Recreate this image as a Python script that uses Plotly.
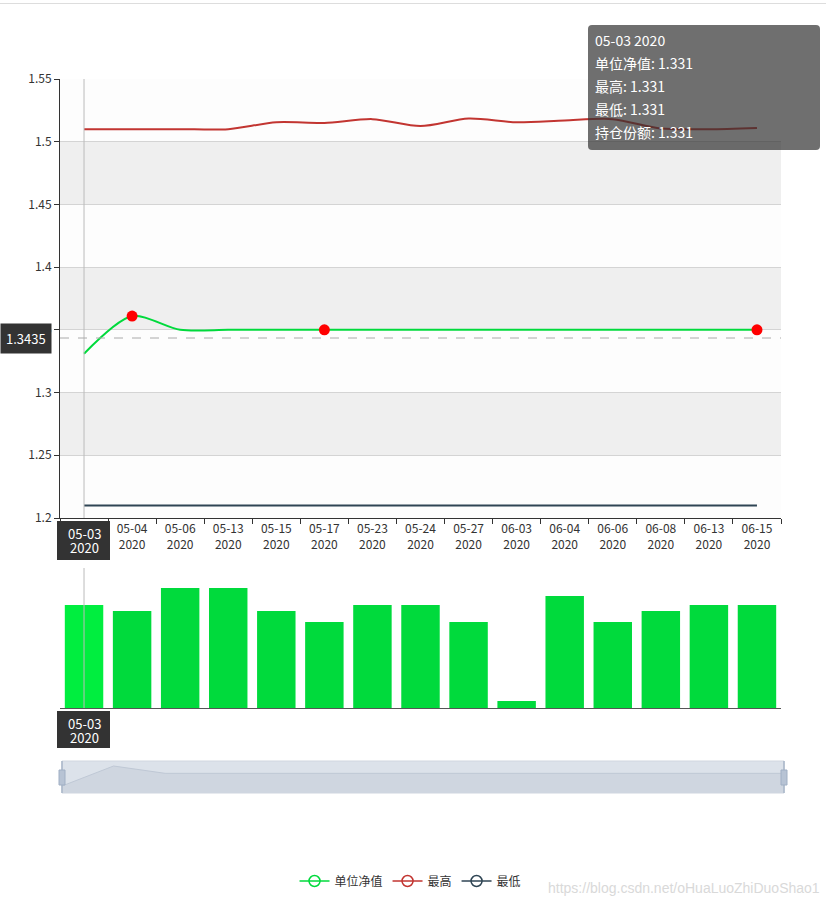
import plotly.graph_objects as go

# ---------------- data ----------------
dates = ["05-03", "05-04", "05-06", "05-13", "05-15", "05-17", "05-23", "05-24",
         "05-27", "06-03", "06-04", "06-06", "06-08", "06-13", "06-15"]
year = "2020"
categories = [f"{d} {year}" for d in dates]
tick_labels = [f"{d}<br>{year}" for d in dates]

net_value = [1.331, 1.361, 1.35, 1.35, 1.35, 1.35, 1.35, 1.35,
             1.35, 1.35, 1.35, 1.35, 1.35, 1.35, 1.35]
highest = [1.51, 1.51, 1.51, 1.51, 1.5155, 1.515, 1.518, 1.5125,
           1.5185, 1.5155, 1.517, 1.518, 1.5105, 1.51, 1.511]
lowest = [1.21, 1.21, 1.21, 1.21, 1.21, 1.21, 1.21, 1.21,
          1.21, 1.21, 1.21, 1.21, 1.21, 1.21, 1.21]
volume = [103, 97, 120, 120, 97, 86, 103, 103, 86, 7, 112, 86, 97, 103, 103]

mark_dates = ["05-04 2020", "05-17 2020", "06-15 2020"]
mark_values = [1.361, 1.35, 1.35]

y_ticks = [1.2, 1.25, 1.3, 1.35, 1.4, 1.45, 1.5, 1.55]
y_tick_text = ["1.2", "1.25", "1.3", "1.35", "1.4", "1.45", "1.5", "1.55"]

series_names = ["单位净值", "最高", "最低"]
tooltip_lines = ["05-03 2020", "单位净值: 1.331", "最高: 1.331", "最低: 1.331", "持仓份额: 1.331"]
pointer_x = "05-03 2020"
pointer_x_lines = ["05-03", "2020"]
pointer_y = 1.3435
pointer_y_label = "1.3435"
watermark = "https://blog.csdn.net/oHuaLuoZhiDuoShao1"

# the axis-pointer label sits over the first tick label, so that one is shown by the pointer label
shown_tick_labels = [""] + tick_labels[1:]

# ---------------- layout helpers ----------------
W, H = 826, 906
def px(x):
    return x / W
def py(y):
    return 1 - y / H

GREEN = "#00da3c"
RED = "#c23531"
DARK = "#2f4554"
FONT = "Noto Sans CJK SC, Noto Sans, sans-serif"

fig = go.Figure()

# main chart lines
fig.add_trace(go.Scatter(x=categories, y=net_value, mode="lines", line=dict(color=GREEN, width=2, shape="spline", smoothing=0.8),
                         xaxis="x", yaxis="y", showlegend=False))
fig.add_trace(go.Scatter(x=categories, y=highest, mode="lines", line=dict(color=RED, width=2, shape="spline", smoothing=0.8),
                         xaxis="x", yaxis="y", showlegend=False))
fig.add_trace(go.Scatter(x=categories, y=lowest, mode="lines", line=dict(color=DARK, width=2, shape="spline"),
                         xaxis="x", yaxis="y", showlegend=False))
fig.add_trace(go.Scatter(x=mark_dates, y=mark_values, mode="markers", marker=dict(color="#ff0000", size=11),
                         xaxis="x", yaxis="y", showlegend=False))

# bars
bar_colors = ["#00ee3f"] + [GREEN] * (len(volume) - 1)
fig.add_trace(go.Bar(x=categories, y=volume, marker=dict(color=bar_colors, line=dict(width=0)),
                     xaxis="x2", yaxis="y2", showlegend=False))

# slider data shadow
fig.add_trace(go.Scatter(x=list(range(len(net_value))), y=net_value, mode="lines", fill="tozeroy",
                         fillcolor="#cfd6e0", line=dict(color="#bfc8d5", width=1),
                         xaxis="x3", yaxis="y3", showlegend=False))

# legend entries
for name, col in zip(series_names, [GREEN, RED, DARK]):
    fig.add_trace(go.Scatter(x=[None], y=[None], mode="lines+markers", name=name,
                             line=dict(color=col, width=1.5),
                             marker=dict(symbol="circle-open", size=11, color=col, line=dict(width=1.5))))

shapes = []
# split areas
for i in range(len(y_ticks) - 1):
    shapes.append(dict(type="rect", xref="x domain", yref="y", x0=0, x1=1, y0=y_ticks[i], y1=y_ticks[i + 1],
                       fillcolor="#efefef" if i % 2 == 1 else "#fdfdfd", line=dict(width=0), layer="below"))
# axis pointers
shapes.append(dict(type="line", xref="x", yref="y domain", x0=pointer_x, x1=pointer_x, y0=0, y1=1,
                   line=dict(color="#bbbbbb", width=1), layer="above"))
shapes.append(dict(type="line", xref="x2", yref="y2 domain", x0=pointer_x, x1=pointer_x, y0=0, y1=1,
                   line=dict(color="#bbbbbb", width=1), layer="above"))
shapes.append(dict(type="line", xref="x domain", yref="y", x0=0, x1=1, y0=pointer_y, y1=pointer_y,
                   line=dict(color="#aaaaaa", width=1, dash="dash"), layer="above"))
# top border line
shapes.append(dict(type="line", xref="paper", yref="paper", x0=0, x1=1, y0=py(3.5), y1=py(3.5),
                   line=dict(color="#dddddd", width=1)))
# slider background
shapes.append(dict(type="rect", xref="paper", yref="paper", x0=px(62), x1=px(784), y0=py(793), y1=py(761),
                   fillcolor="#dce2ea", line=dict(color="#d0d6df", width=1), layer="below"))
for hx in (62, 784):
    shapes.append(dict(type="line", xref="paper", yref="paper", x0=px(hx), x1=px(hx), y0=py(793), y1=py(761),
                       line=dict(color="#a9b6c9", width=1.5)))
    shapes.append(dict(type="rect", xref="paper", yref="paper", x0=px(hx - 3), x1=px(hx + 3), y0=py(785), y1=py(770),
                       fillcolor="#b7c3d4", line=dict(color="#a0afc4", width=1)))
# tooltip box (rounded)
x0, x1, y0, y1, r = 588, 820, 25, 150, 4
path = (f"M {px(x0 + r)} {py(y0)} L {px(x1 - r)} {py(y0)} Q {px(x1)} {py(y0)} {px(x1)} {py(y0 + r)} "
        f"L {px(x1)} {py(y1 - r)} Q {px(x1)} {py(y1)} {px(x1 - r)} {py(y1)} "
        f"L {px(x0 + r)} {py(y1)} Q {px(x0)} {py(y1)} {px(x0)} {py(y1 - r)} "
        f"L {px(x0)} {py(y0 + r)} Q {px(x0)} {py(y0)} {px(x0 + r)} {py(y0)} Z")
shapes.append(dict(type="path", xref="paper", yref="paper", path=path, fillcolor="rgba(50,50,50,0.7)",
                   line=dict(width=0), layer="above"))
# axis-pointer label boxes for the category axis
for top, bottom in ((521, 560), (711, 748)):
    shapes.append(dict(type="rect", xref="paper", yref="paper", x0=px(57), x1=px(110), y0=py(bottom), y1=py(top),
                       fillcolor="#333333", line=dict(width=0), layer="above"))

annotations = []
for k, t in enumerate(tooltip_lines):
    annotations.append(dict(xref="paper", yref="paper", x=px(593), y=py(40 + 23 * k), xanchor="left", yanchor="middle",
                            text=t, showarrow=False, font=dict(color="white", size=14, family=FONT), align="left"))
annotations.append(dict(xref="paper", yref="y", x=0, y=pointer_y, xanchor="left", yanchor="middle",
                        text=pointer_y_label, showarrow=False, bgcolor="#333333",
                        font=dict(color="white", size=13, family=FONT), borderpad=5))
for xr, top in (("x", 521), ("x2", 711)):
    for k, t in enumerate(pointer_x_lines):
        annotations.append(dict(xref=xr, yref="paper", x=pointer_x, y=py(top + 12.5 + 13.5 * k), xanchor="center",
                                yanchor="middle", text=t, showarrow=False,
                                font=dict(color="white", size=13, family=FONT)))
annotations.append(dict(xref="paper", yref="paper", x=px(822), y=py(888), xanchor="right", yanchor="middle",
                        text=watermark, showarrow=False, font=dict(color="#d9d9d9", size=14, family="Arial, Liberation Sans")))

fig.update_layout(
    width=W, height=H,
    margin=dict(l=0, r=0, t=0, b=0),
    paper_bgcolor="white", plot_bgcolor="white",
    font=dict(family=FONT, size=12, color="#333333"),
    hovermode=False,
    shapes=shapes, annotations=annotations,
    legend=dict(orientation="h", x=0.497, xanchor="center", y=py(881), yanchor="middle",
                font=dict(size=12, color="#333333"), itemwidth=30, bgcolor="rgba(0,0,0,0)"),
    xaxis=dict(domain=[px(60), px(781)], anchor="y", type="category", tickmode="array",
               tickvals=categories, ticktext=shown_tick_labels, tickson="boundaries", ticks="outside", ticklen=5,
               tickcolor="#333333", showline=True, linecolor="#333333", linewidth=1, showgrid=False,
               zeroline=False, automargin=False, tickfont=dict(size=12, color="#333333"), fixedrange=True,
               range=[-0.5, len(categories) - 0.5]),
    yaxis=dict(domain=[py(518), py(79)], anchor="x", range=[1.2, 1.55], tickmode="array",
               tickvals=y_ticks, ticktext=y_tick_text, ticks="outside", ticklen=5, tickcolor="#333333",
               showline=True, linecolor="#333333", linewidth=1, showgrid=True, gridcolor="#d4d4d4",
               zeroline=False, automargin=False, tickfont=dict(size=12, color="#333333")),
    xaxis2=dict(domain=[px(60), px(781)], anchor="y2", type="category", showticklabels=False, ticks="",
                showline=True, linecolor="#555555", linewidth=1, showgrid=False, zeroline=False,
                automargin=False, range=[-0.5, len(categories) - 0.5]),
    yaxis2=dict(domain=[py(708), py(568)], anchor="x2", range=[0, 140], visible=False, showgrid=False,
                zeroline=False),
    xaxis3=dict(domain=[px(62), px(784)], anchor="y3", range=[0, len(net_value) - 1], visible=False,
                showgrid=False, zeroline=False),
    yaxis3=dict(domain=[py(793), py(761)], anchor="x3", range=[1.3205, 1.3685], visible=False,
                showgrid=False, zeroline=False),
    bargap=0.2,
)

fig.write_html("out.html")
